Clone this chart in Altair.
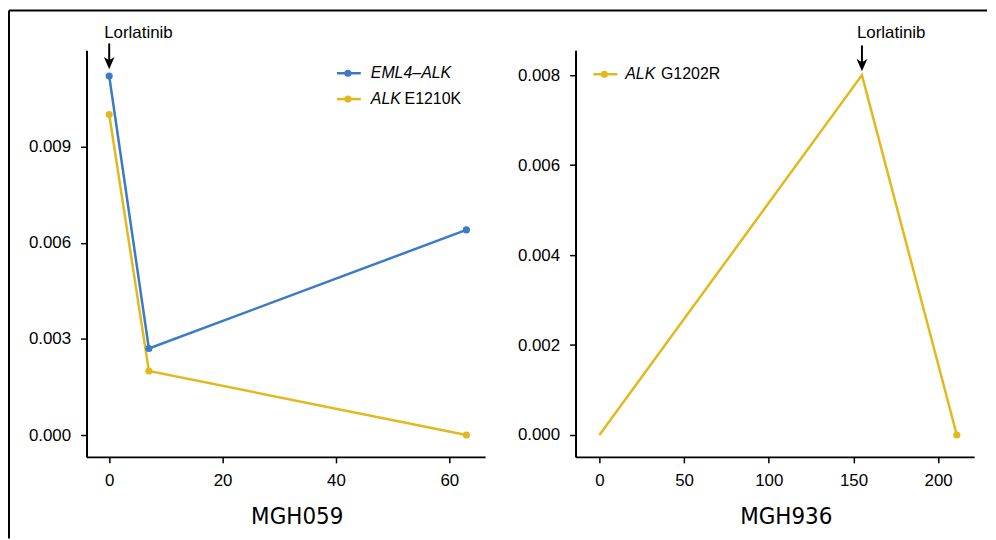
import altair as alt
import pandas as pd

# ---- data ----
left_days = [0, 7, 63]
eml4_alk = [0.0112, 0.0027, 0.0064]
alk_e1210k = [0.0100, 0.0020, 0.0000]

right_days = [0, 155, 211]
alk_g1202r = [0.0000, 0.0080, 0.0000]
right_marker = [False, False, True]

left_x_ticks = [0, 20, 40, 60]
left_y_ticks = [0.000, 0.003, 0.006, 0.009]
right_x_ticks = [0, 50, 100, 150, 200]
right_y_ticks = [0.000, 0.002, 0.004, 0.006, 0.008]

left_arrow_day = [0]
right_arrow_day = [155]
arrow_label = "Lorlatinib"

BLUE = "#3a7bc8"
YELLOW = "#e2b91c"
FONT = "Liberation Sans"
NARROW = "Liberation Sans Narrow, DejaVu Sans Condensed, sans-serif"

W, H = 401, 409
DOT = 52

left_df = pd.DataFrame({
    "day": left_days * 2,
    "value": eml4_alk + alk_e1210k,
    "series": ["EML4–ALK"] * 3 + ["ALK E1210K"] * 3,
})
right_df = pd.DataFrame({"day": right_days, "value": alk_g1202r, "marker": right_marker})

color_scale = alt.Scale(domain=["EML4–ALK", "ALK E1210K"], range=[BLUE, YELLOW])


def x_axis(vals, title):
    return alt.Axis(values=vals, title=title, titleFont=NARROW, titleFontSize=24,
                    titleFontWeight="normal", titleColor="black", titleX=W / 2 + 11,
                    titleY=67, titleBaseline="alphabetic", labelFont=FONT,
                    labelFontSize=17, labelColor="black", labelPadding=10,
                    tickSize=6, labelFlush=False, grid=False)


def y_axis(vals):
    return alt.Axis(values=vals, title=None, format=".3f", labelFont=FONT,
                    labelFontSize=17, labelColor="black", labelPadding=10, tickSize=6,
                    grid=False)


# ---------------- left panel ----------------
lx = alt.X("day:Q", scale=alt.Scale(domain=[-4, 66.3], nice=False, zero=False),
           axis=x_axis(left_x_ticks, "MGH059"))
ly = alt.Y("value:Q", scale=alt.Scale(domain=[-0.00068, 0.0120], nice=False, zero=False),
           axis=y_axis(left_y_ticks))

left_base = alt.Chart(left_df)
left_lines = left_base.mark_line(strokeWidth=2.5).encode(
    x=lx, y=ly, color=alt.Color("series:N", scale=color_scale, legend=None))
left_pts = left_base.mark_circle(size=DOT, opacity=1).encode(
    x=lx, y=ly, color=alt.Color("series:N", scale=color_scale, legend=None))

arrow_l = pd.DataFrame({"day": left_arrow_day, "label": [arrow_label]})
la = alt.Chart(arrow_l)
l_shaft = la.mark_rule(color="black", strokeWidth=2).encode(
    x=alt.X("day:Q"), y=alt.value(-7), y2=alt.value(12))
l_head = la.mark_point(shape="M0,0L-1,-2.3L0,-1.7L1,-2.3Z", size=115, filled=True,
                       color="black", opacity=1).encode(x="day:Q", y=alt.value(19))
l_text = la.mark_text(align="left", baseline="alphabetic", dx=-5, font=FONT,
                      fontSize=17, color="black").encode(
    x="day:Q", y=alt.value(-12), text="label:N")

# custom legend (mixed italic)
leg_df = pd.DataFrame({"row": [0]})
leg = alt.Chart(leg_df)
l_leg_items = []
for yy, col, ital, reg, regx in [(23, BLUE, "EML4–ALK", "", 0),
                                  (49, YELLOW, "ALK", "E1210K", 320)]:
    l_leg_items.append(leg.mark_rule(color=col, strokeWidth=2.5).encode(
        x=alt.value(252), x2=alt.value(276), y=alt.value(yy)))
    l_leg_items.append(leg.mark_circle(color=col, size=DOT, opacity=1).encode(
        x=alt.value(263), y=alt.value(yy)))
    l_leg_items.append(leg.mark_text(
        text=ital, align="left", baseline="middle", font=FONT, fontSize=16,
        fontStyle="italic", color="black").encode(x=alt.value(286), y=alt.value(yy)))
    if reg:
        l_leg_items.append(leg.mark_text(
            text=reg, align="left", baseline="middle", font=FONT, fontSize=16,
            color="black").encode(x=alt.value(regx), y=alt.value(yy)))

# figure frame (left and top edges)
frame_left = leg.mark_rule(color="black", strokeWidth=2).encode(
    x=alt.value(-78), y=alt.value(-40), y2=alt.value(491))
frame_top = leg.mark_rule(color="black", strokeWidth=2).encode(
    x=alt.value(-78), x2=alt.value(906), y=alt.value(-40))

left = alt.layer(left_lines, left_pts, l_shaft, l_head, l_text, *l_leg_items,
                 frame_left, frame_top).properties(width=W, height=H)

# ---------------- right panel ----------------
rx = alt.X("day:Q", scale=alt.Scale(domain=[-14.1, 221.2], nice=False, zero=False),
           axis=x_axis(right_x_ticks, "MGH936"))
ry = alt.Y("value:Q", scale=alt.Scale(domain=[-0.000486, 0.00855], nice=False, zero=False),
           axis=y_axis(right_y_ticks))

rb = alt.Chart(right_df)
r_line = rb.mark_line(strokeWidth=2.5, color=YELLOW).encode(x=rx, y=ry)
r_pts = rb.transform_filter("datum.marker").mark_circle(
    size=DOT, opacity=1, color=YELLOW).encode(x=rx, y=ry)

arrow_r = pd.DataFrame({"day": right_arrow_day, "label": [arrow_label]})
ra = alt.Chart(arrow_r)
r_shaft = ra.mark_rule(color="black", strokeWidth=2).encode(
    x=alt.X("day:Q"), y=alt.value(-5), y2=alt.value(14))
r_head = ra.mark_point(shape="M0,0L-1,-2.3L0,-1.7L1,-2.3Z", size=115, filled=True,
                       color="black", opacity=1).encode(x="day:Q", y=alt.value(21))
r_text = ra.mark_text(align="left", baseline="alphabetic", dx=-5, font=FONT,
                      fontSize=17, color="black").encode(
    x="day:Q", y=alt.value(-12), text="label:N")

r_leg = [
    leg.mark_rule(color=YELLOW, strokeWidth=2.5).encode(
        x=alt.value(18), x2=alt.value(42), y=alt.value(24)),
    leg.mark_circle(color=YELLOW, size=DOT, opacity=1).encode(
        x=alt.value(29), y=alt.value(24)),
    leg.mark_text(text="ALK", align="left", baseline="middle", font=FONT, fontSize=16,
                  fontStyle="italic", color="black").encode(x=alt.value(50), y=alt.value(24)),
    leg.mark_text(text="G1202R", align="left", baseline="middle", font=FONT, fontSize=16,
                  color="black").encode(x=alt.value(86), y=alt.value(24)),
]

right = alt.layer(r_line, r_pts, r_shaft, r_head, r_text, *r_leg).properties(
    width=W, height=H)

chart = alt.hconcat(left, right, spacing=91, bounds="flush").properties(
    padding={"left": 0, "top": 0, "right": 0, "bottom": 0}, background="white"
).configure_view(stroke=None).configure_axis(
    grid=False, domainColor="black", domainWidth=2, tickColor="black", tickWidth=1.5
)

chart.save("out.html", embed_options={"renderer": "svg", "actions": False})
